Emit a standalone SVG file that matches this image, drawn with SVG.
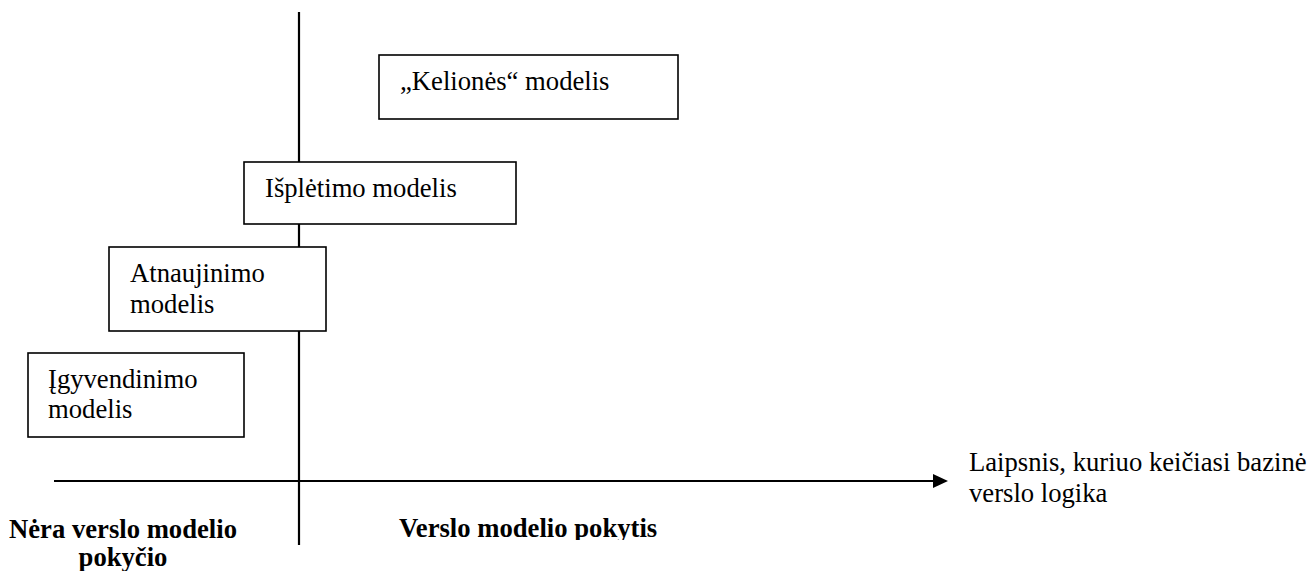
<svg xmlns="http://www.w3.org/2000/svg" width="1310" height="571" viewBox="0 0 1310 571">
<style>
.box{fill:#fff;stroke:#000;stroke-width:1.6}
.t{font-family:"Liberation Serif","Times New Roman",serif;font-size:26.67px;fill:#000}
.b{font-weight:bold}
.ax{stroke:#000;stroke-width:2.2;fill:none}
</style>
<defs>
<clipPath id="clipBottom"><rect x="0" y="0" width="1310" height="540"/></clipPath>
</defs>
<g id="connectors">
<line class="ax" x1="299" y1="12" x2="299" y2="545"/>
<line class="ax" x1="54" y1="481" x2="936" y2="481"/>
<polygon points="933,474 948,481 933,488" fill="#000"/>
</g>
<g id="node-kelione">
<rect class="box" x="379" y="55" width="299" height="64"/>
<text class="t" x="400" y="90">„Kelionės“ modelis</text>
</g>
<g id="node-isplėtimo">
<rect class="box" x="244" y="162" width="272" height="62"/>
<text class="t" x="265" y="197">Išplėtimo modelis</text>
</g>
<g id="node-atnaujinimo">
<rect class="box" x="109" y="247" width="217" height="84"/>
<text class="t" x="130" y="282">Atnaujinimo</text>
<text class="t" x="130" y="313">modelis</text>
</g>
<g id="node-igyvendinimo">
<rect class="box" x="28" y="353" width="216" height="84"/>
<text class="t" x="48" y="388">Įgyvendinimo</text>
<text class="t" x="48" y="418">modelis</text>
</g>
<g id="label-axis">
<text class="t" x="969" y="471">Laipsnis, kuriuo keičiasi bazinė</text>
<text class="t" x="969" y="502">verslo logika</text>
</g>
<g id="label-no-change">
<text class="t b" x="123" y="538" text-anchor="middle">Nėra verslo modelio</text>
<text class="t b" x="123" y="566" text-anchor="middle">pokyčio</text>
</g>
<g id="label-change" clip-path="url(#clipBottom)">
<text class="t b" x="399" y="537">Verslo modelio pokytis</text>
</g>
</svg>
